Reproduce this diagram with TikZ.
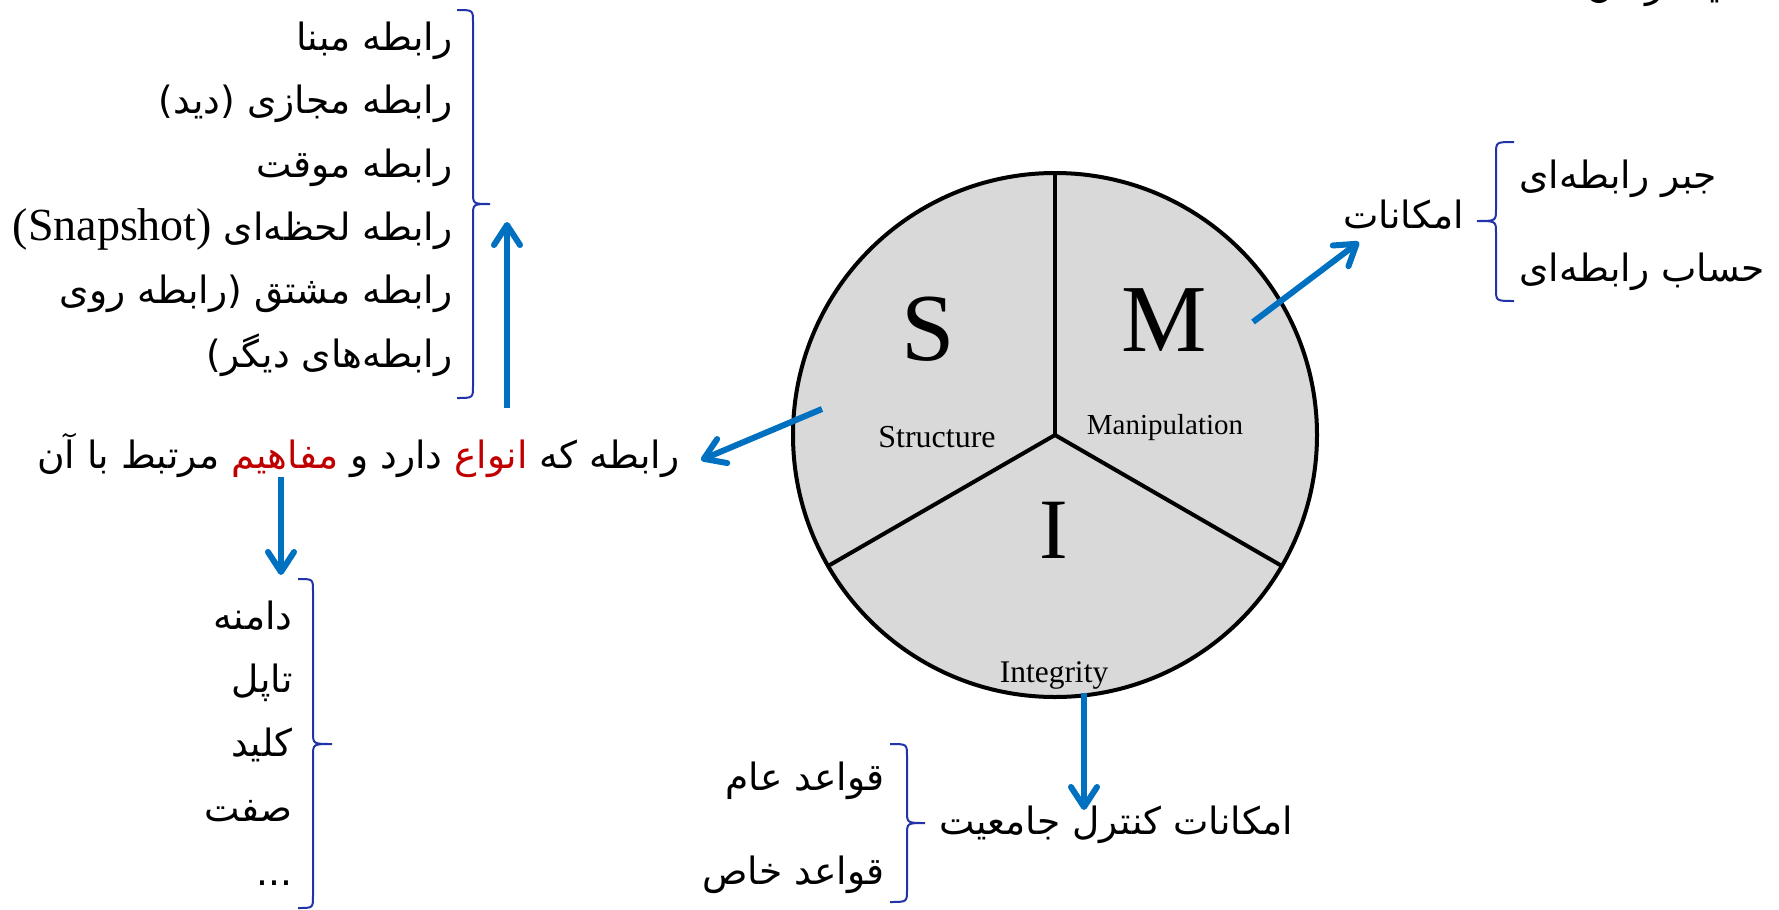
\documentclass[tikz,border=0pt]{standalone}
\usepackage{fontspec}
\setmainfont{Liberation Serif}
\newfontfamily\fa[Script=Arabic]{DejaVu Sans}
\newfontfamily\dvs{DejaVu Sans}
\TeXXeTstate=1
\usetikzlibrary{arrows.meta}
\definecolor{arrowblue}{HTML}{0070C0}
\definecolor{braceblue}{HTML}{2233AA}
\definecolor{wordred}{HTML}{C00000}
\definecolor{piefill}{HTML}{D9D9D9}
\newcommand\snapfont{\rmfamily\fontsize{23}{23}\selectfont}
\tikzset{
  pe/.style={font=\fa\fontsize{18.8}{22}\selectfont, inner sep=0pt},
  bigletter/.style={font=\rmfamily\fontsize{48}{48}\selectfont, inner sep=0pt, anchor=base},
  sublabel/.style={font=\rmfamily\fontsize{#1}{#1}\selectfont, inner sep=0pt, anchor=base},
  conn/.style={draw=arrowblue, line width=3pt, -{Straight Barb[round, length=10pt, width=13pt]}},
  bracestyle/.style={draw=braceblue, line width=1pt},
}
\begin{document}
\begin{tikzpicture}[x=0.5pt, y=-0.5pt]
\useasboundingbox (0,0) rectangle (1779,910);
\clip (0,0) rectangle (1779,910);

% pie
\node[circle, draw, fill=piefill, line width=2pt, minimum size=262pt, inner sep=0pt, outer sep=0pt] (pie) at (1055,435) {};
\draw[line width=2pt, line cap=round] (pie.center) -- (pie.north);
\draw[line width=2pt, line cap=round] (pie.center) -- (pie.210);
\draw[line width=2pt, line cap=round] (pie.center) -- (pie.330);

\node[bigletter] (S) at (928,360) {S};
\node[bigletter] (M) at (1164,351) {M};
\node[bigletter, font=\rmfamily\fontsize{43}{43}\selectfont] (I) at (1054,558) {I};
\node[sublabel=16] (structure) at (937,447) {Structure};
\node[sublabel=14.5] (manip) at (1165,434) {Manipulation};
\node[sublabel=15.75] (integ) at (1054,682) {Integrity};

% clipped text at the top edge
\node[pe, anchor=base east] (topfrag) at (1720,-3) {\beginR یک زمان\endR};

% top-left list
\node[pe, anchor=base east] (t1) at (453,50) {\beginR رابطه مبنا\endR};
\node[pe, anchor=base east] (t2) at (453,113) {\beginR رابطه مجازی {\dvs)}دید{\dvs(}\endR};
\node[pe, anchor=base east] (t3) at (453,177) {\beginR رابطه موقت\endR};
\node[pe, anchor=base east] (t4) at (453,240) {\beginR رابطه لحظه^^^^200cای {\snapfont)}\beginL{\snapfont Snapshot}\endL{\snapfont(}\endR};
\node[pe, anchor=base east] (t5) at (453,303) {\beginR رابطه مشتق {\dvs)}رابطه روی\endR};
\node[pe, anchor=base east] (t6) at (453,367) {\beginR رابطه^^^^200cهای دیگر{\dvs(}\endR};

% main line (segments written in visual left-to-right order)
\node[pe, anchor=base east] (main) at (680,468) {\beginR مرتبط با آن\endR{} {\color{wordred}\beginR مفاهیم\endR} \beginR دارد و\endR{} {\color{wordred}\beginR انواع\endR} \beginR رابطه که\endR};

% bottom-left list
\node[pe, anchor=base east] (b1) at (293,629) {\beginR دامنه\endR};
\node[pe, anchor=base east] (b2) at (293,692) {\beginR تاپل\endR};
\node[pe, anchor=base east] (b3) at (293,756) {\beginR کلید\endR};
\node[pe, anchor=base east] (b4) at (293,821) {\beginR صفت\endR};
\node[pe, anchor=base east] (b5) at (293,885) {...};

% right
\node[pe, anchor=base east] (r0) at (1464,228) {\beginR امکانات\endR};
\node[pe, anchor=base west] (r1) at (1519,188) {\beginR جبر رابطه^^^^200cای\endR};
\node[pe, anchor=base west] (r2) at (1519,281) {\beginR حساب رابطه^^^^200cای\endR};

% bottom
\node[pe, anchor=base west] (c0) at (939,834) {\beginR امکانات کنترل جامعیت\endR};
\node[pe, anchor=base east] (c1) at (885,790) {\beginR قواعد عام\endR};
\node[pe, anchor=base east] (c2) at (885,884) {\beginR قواعد خاص\endR};

% braces
\draw[bracestyle] (457,10) .. controls (473,10) .. (473,22) -- (473,192) .. controls (473,204) .. (490,204) .. controls (473,204) .. (473,216) -- (473,386) .. controls (473,398) .. (457,398);
\draw[bracestyle] (298,579) .. controls (313,579) .. (313,591) -- (313,732) .. controls (313,744) .. (332,744) .. controls (313,744) .. (313,756) -- (313,896) .. controls (313,908) .. (298,908);
\draw[bracestyle] (1514,142) .. controls (1496,142) .. (1496,154) -- (1496,209) .. controls (1496,221) .. (1477,221) .. controls (1496,221) .. (1496,233) -- (1496,289) .. controls (1496,301) .. (1514,301);
\draw[bracestyle] (890,744) .. controls (907,744) .. (907,756) -- (907,811) .. controls (907,823) .. (925,823) .. controls (907,823) .. (907,835) -- (907,890) .. controls (907,902) .. (890,902);

% connectors
\coordinate (sFrom) at (822,409);
\coordinate (sTip) at (701,460);
\coordinate (mFrom) at (1253,322);
\coordinate (mTip) at (1359,242);
\coordinate (iFrom) at (1084,693);
\coordinate (iTip) at (1084,810);
\coordinate (upFrom) at (507,408);
\coordinate (upTip) at (507,222);
\coordinate (dnFrom) at (281,477);
\coordinate (dnTip) at (281,575);
\draw[conn] (sFrom) -- (sTip);
\draw[conn] (mFrom) -- (mTip);
\draw[conn] (iFrom) -- (iTip);
\draw[conn] (upFrom) -- (upTip);
\draw[conn] (dnFrom) -- (dnTip);
\end{tikzpicture}
\end{document}
